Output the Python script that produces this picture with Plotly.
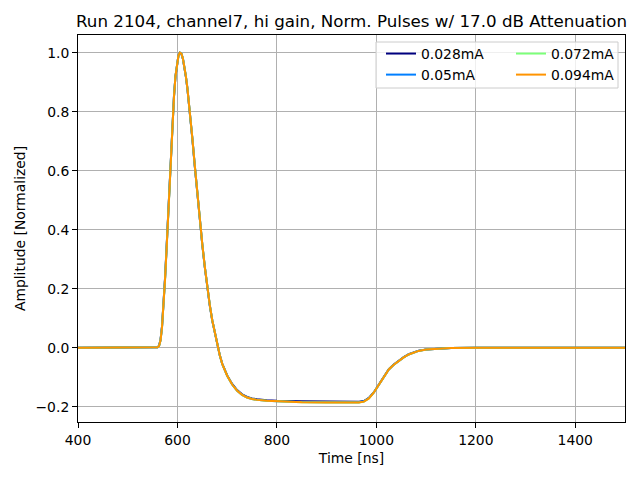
import plotly.graph_objects as go

# ---- data ----
time_ns = [400, 500, 555, 560, 563, 566, 569, 572, 575, 578, 581, 584, 587, 590, 593, 596,
           599, 602, 605, 608, 611, 614, 617, 620, 625, 630, 635, 640, 645, 650, 655, 660,
           665, 670, 675, 680, 685, 690, 695, 700, 710, 720, 730, 740, 750, 760, 780, 800,
           850, 900, 950, 965, 975, 985, 995, 1005, 1015, 1025, 1035, 1045, 1055, 1065,
           1075, 1085, 1100, 1120, 1150, 1200, 1300, 1500]

amp_0028 = [0, 0, 0, 0.001, 0.007, 0.027, 0.073, 0.145, 0.235, 0.335, 0.445, 0.565, 0.675, 0.772,
            0.852, 0.92, 0.965, 0.99, 1.0, 0.996, 0.979, 0.953, 0.918, 0.878, 0.798, 0.708,
            0.613, 0.518, 0.428, 0.348, 0.273, 0.203, 0.143, 0.092, 0.049, 0.01, -0.025,
            -0.054, -0.077, -0.094, -0.123, -0.144, -0.158, -0.167, -0.172, -0.175, -0.178,
            -0.180, -0.182, -0.183, -0.183, -0.183, -0.181, -0.170, -0.151, -0.124, -0.097,
            -0.073, -0.057, -0.044, -0.032, -0.022, -0.015, -0.010, -0.006, -0.003, -0.001,
            0, 0, 0]

amp_005 = [0, 0, 0, 0.001, 0.006, 0.026, 0.071, 0.142, 0.232, 0.332, 0.442, 0.562, 0.672, 0.771,
           0.851, 0.92, 0.965, 0.99, 1.0, 0.997, 0.98, 0.954, 0.919, 0.879, 0.799, 0.709,
           0.614, 0.519, 0.429, 0.349, 0.274, 0.204, 0.144, 0.093, 0.05, 0.01, -0.025,
           -0.055, -0.078, -0.095, -0.125, -0.146, -0.160, -0.169, -0.174, -0.177, -0.180,
           -0.182, -0.184, -0.185, -0.185, -0.185, -0.182, -0.171, -0.152, -0.125, -0.098,
           -0.074, -0.058, -0.045, -0.033, -0.023, -0.016, -0.011, -0.006, -0.003, -0.001,
           0, 0, 0]

amp_0072 = [0, 0, 0, 0.001, 0.006, 0.025, 0.070, 0.140, 0.230, 0.330, 0.440, 0.560, 0.670, 0.770,
            0.850, 0.92, 0.965, 0.99, 1.0, 0.997, 0.98, 0.955, 0.92, 0.88, 0.80, 0.71,
            0.615, 0.52, 0.43, 0.35, 0.275, 0.205, 0.145, 0.093, 0.05, 0.01, -0.025,
            -0.055, -0.078, -0.095, -0.125, -0.146, -0.160, -0.169, -0.174, -0.177, -0.180,
            -0.182, -0.185, -0.186, -0.186, -0.186, -0.183, -0.172, -0.152, -0.125, -0.098,
            -0.074, -0.058, -0.045, -0.033, -0.023, -0.016, -0.011, -0.006, -0.003, -0.001,
            0, 0, 0]

amp_0094 = [0, 0, 0, 0.001, 0.006, 0.025, 0.070, 0.140, 0.230, 0.330, 0.440, 0.560, 0.670, 0.770,
            0.850, 0.92, 0.965, 0.99, 1.0, 0.997, 0.98, 0.955, 0.92, 0.88, 0.80, 0.71,
            0.615, 0.52, 0.43, 0.35, 0.275, 0.205, 0.145, 0.093, 0.05, 0.01, -0.025,
            -0.055, -0.078, -0.095, -0.125, -0.146, -0.160, -0.169, -0.174, -0.177, -0.180,
            -0.182, -0.185, -0.186, -0.186, -0.186, -0.183, -0.172, -0.152, -0.125, -0.098,
            -0.074, -0.058, -0.045, -0.033, -0.023, -0.016, -0.011, -0.006, -0.003, -0.001,
            0, 0, 0]

series_names = ["0.028mA", "0.05mA", "0.072mA", "0.094mA"]
series_values = [amp_0028, amp_005, amp_0072, amp_0094]
series_colors = ["#00007f", "#007fff", "#7cff79", "#ff9400"]
series_legend = ["legend", "legend", "legend2", "legend2"]

x_ticks = [400, 600, 800, 1000, 1200, 1400]
y_ticks = [-0.2, 0.0, 0.2, 0.4, 0.6, 0.8, 1.0]

title_text = "Run 2104, channel7, hi gain, Norm. Pulses w/ 17.0 dB Attenuation"
x_label = "Time [ns]"
y_label = "Amplitude [Normalized]"

FONT = "DejaVu Sans"

# page body has an 8px default margin: figure is drawn 8px right/down
ML, MT = 70, 27
PW, PH = 547, 387

fig = go.Figure()
for name, vals, col, lg in zip(series_names, series_values, series_colors, series_legend):
    fig.add_trace(go.Scatter(x=time_ns, y=vals, mode="lines", name=name,
                             line=dict(color=col, width=2), legend=lg))

axis_common = dict(showline=True, linecolor="black", linewidth=1, mirror=True,
                   ticks="outside", ticklen=5, tickwidth=1, tickcolor="black",
                   showgrid=True, gridcolor="#b0b0b0", gridwidth=1, zeroline=False,
                   tickfont=dict(family=FONT, size=13.9, color="black"))


def px_x(p):  # reference-image pixel -> paper x
    return (p - 78) / PW


def px_y(p):  # reference-image pixel -> paper y
    return 1 - (p - 35) / PH


fig.update_layout(
    width=632, height=472,
    margin=dict(l=ML, r=632 - ML - PW, t=MT, b=472 - MT - PH),
    paper_bgcolor="white", plot_bgcolor="white",
    font=dict(family=FONT, size=13.9, color="black"),
    xaxis=dict(range=[400, 1500], tickvals=x_ticks,
               title=dict(text=x_label, font=dict(family=FONT, size=13.9, color="black"), standoff=6),
               **axis_common),
    yaxis=dict(range=[-0.252, 1.06], tickvals=y_ticks, tickformat=".1f",
               title=dict(text=y_label, font=dict(family=FONT, size=13.9, color="black"), standoff=6),
               **axis_common),
    legend=dict(x=px_x(381), y=px_y(38), xanchor="left", yanchor="top",
                bgcolor="rgba(0,0,0,0)", borderwidth=0, itemwidth=30,
                font=dict(family=FONT, size=13.9, color="black"), tracegroupgap=0),
    legend2=dict(x=px_x(511), y=px_y(38), xanchor="left", yanchor="top",
                 bgcolor="rgba(0,0,0,0)", borderwidth=0, itemwidth=30,
                 font=dict(family=FONT, size=13.9, color="black"), tracegroupgap=0),
    showlegend=True,
)

# legend frame
fig.add_shape(type="rect", xref="paper", yref="paper",
              x0=px_x(376), x1=px_x(618), y0=px_y(88), y1=px_y(42),
              fillcolor="rgba(255,255,255,0.8)", line=dict(color="#cccccc", width=1),
              layer="above")

fig.add_annotation(text=title_text, xref="paper", yref="paper", x=0.5, y=1,
                   xanchor="center", yanchor="bottom", yshift=2, showarrow=False,
                   font=dict(family=FONT, size=16.7, color="black"))

fig.write_html("out.html")
